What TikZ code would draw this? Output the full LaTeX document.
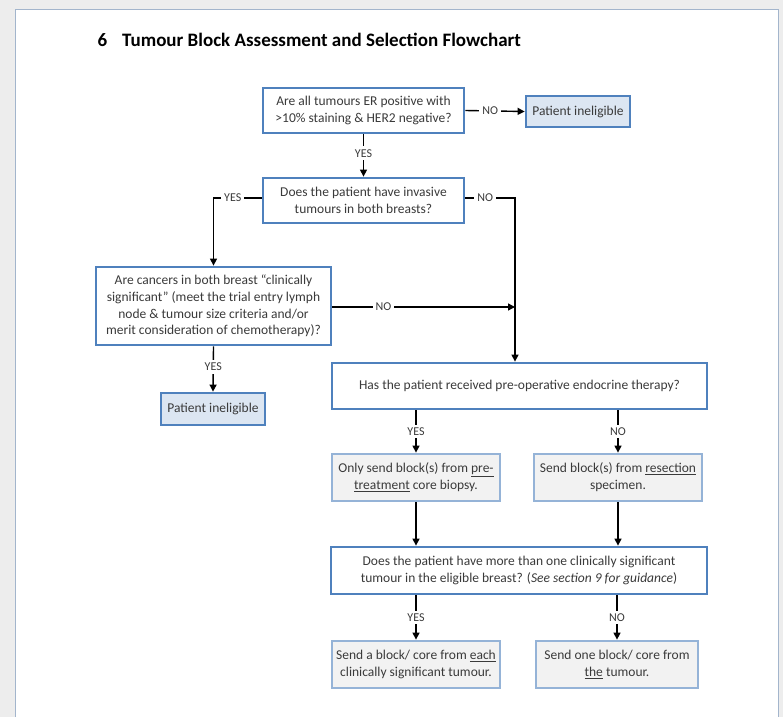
\documentclass[tikz,border=0pt]{standalone}
\usepackage{fontspec}
\setmainfont{Carlito}
\usetikzlibrary{arrows.meta}
\definecolor{bblue}{HTML}{4F81BD}
\definecolor{lblue}{HTML}{95B3D7}
\definecolor{pfill}{HTML}{DCE6F2}
\definecolor{sfill}{HTML}{F2F2F2}
\definecolor{txt}{HTML}{3A3A3A}
\definecolor{pageedge}{HTML}{A3B5CC}
\definecolor{outer}{HTML}{EDEDED}
\begin{document}
\begin{tikzpicture}[x=1pt,y=-1pt,
  every node/.style={text=txt, font=\fontsize{13.5}{16.8}\selectfont},
  qbox/.style={draw=bblue, line width=2.8pt, fill=white, align=center, inner sep=0pt},
  pbox/.style={draw=bblue, line width=2.8pt, fill=pfill, align=center, inner sep=0pt},
  sbox/.style={draw=lblue, line width=2.8pt, fill=sfill, align=center, inner sep=0pt},
  conn/.style={draw=black, line width=1.4pt},
  arr/.style={conn, -{Triangle[length=7pt,width=7pt]}},
  lab/.style={fill=white, inner sep=3pt, font=\fontsize{12}{12}\selectfont, text=txt}]
\useasboundingbox (0,0) rectangle (783,717);
\fill[outer] (0,0) rectangle (783,717);
\fill[white] (15,10) rectangle (778,717);
\draw[pageedge, line width=1pt] (15,717) -- (15,10) -- (778,10) -- (778,717);

\node[anchor=base west, text=black, font=\fontsize{19}{21}\selectfont\bfseries] (title) at (94,46)
  {6\hspace{15pt}Tumour Block Assessment and Selection Flowchart};

\node[qbox, minimum width=201pt, minimum height=45pt] (q1) at (363.5,110.5)
  {Are all tumours ER positive with\\ \textgreater10\% staining \& HER2 negative?};
\node[pbox, minimum width=104pt, minimum height=31pt] (pi1) at (578,111.5) {Patient ineligible};
\node[qbox, minimum width=201pt, minimum height=45pt] (q2) at (363.5,200.5)
  {Does the patient have invasive\\ tumours in both breasts?};
\node[qbox, minimum width=235pt, minimum height=78pt] (q3) at (213.5,306)
  {Are cancers in both breast “clinically\\ significant” (meet the trial entry lymph\\ node \& tumour size criteria and/or\\ merit consideration of chemotherapy)?};
\node[pbox, minimum width=104pt, minimum height=32pt] (pi2) at (213,409) {Patient ineligible};
\node[qbox, minimum width=375pt, minimum height=46pt] (q4) at (519.5,386)
  {Has the patient received pre-operative endocrine therapy?};
\node[sbox, minimum width=168pt, minimum height=47pt] (s1) at (416,477.5)
  {Only send block(s) from \underline{pre-}\\ \underline{treatment} core biopsy.};
\node[sbox, minimum width=168pt, minimum height=47pt] (s2) at (618,477.5)
  {Send block(s) from \underline{resection}\\ specimen.};
\node[qbox, minimum width=376pt, minimum height=47pt] (q5) at (519,570.5)
  {Does the patient have more than one clinically significant\\ tumour in the eligible breast? (\textit{See section 9 for guidance})};
\node[sbox, minimum width=168pt, minimum height=47pt] (s3) at (416,664.5)
  {Send a block/ core from \underline{each}\\ clinically significant tumour.};
\node[sbox, minimum width=162pt, minimum height=47pt] (s4) at (617,664.5)
  {Send one block/ core from\\ \underline{the} tumour.};

\coordinate (j) at (515,198);

\draw[arr] (q1.east) -- node[lab, pos=0.42] {NO} (pi1.west);
\draw[arr] (q1.south) -- node[lab, pos=0.45] {YES} (q2.north);
\draw[arr] (q2.west |- j) -| node[lab, pos=0.3] {YES} (q3.north);
\draw[arr] (q2.east |- j) -- node[lab, pos=0.4] {NO} (j) -- (j |- q4.north);
\draw[arr] (q3.east |- 0,307) -- node[lab, pos=0.28] {NO} (j |- 0,307);
\draw[arr] (q3.south) -- node[lab, pos=0.45] {YES} (pi2.north);
\draw[arr] (s1.north |- q4.south) -- node[lab, pos=0.5] {YES} (s1.north);
\draw[arr] (s2.north |- q4.south) -- node[lab, pos=0.5] {NO} (s2.north);
\draw[arr] (s1.south) -- (s1.south |- q5.north);
\draw[arr] (s2.south) -- (s2.south |- q5.north);
\draw[arr] (s3.north |- q5.south) -- node[lab, pos=0.5] {YES} (s3.north);
\draw[arr] (s4.north |- q5.south) -- node[lab, pos=0.5] {NO} (s4.north);
\end{tikzpicture}
\end{document}
